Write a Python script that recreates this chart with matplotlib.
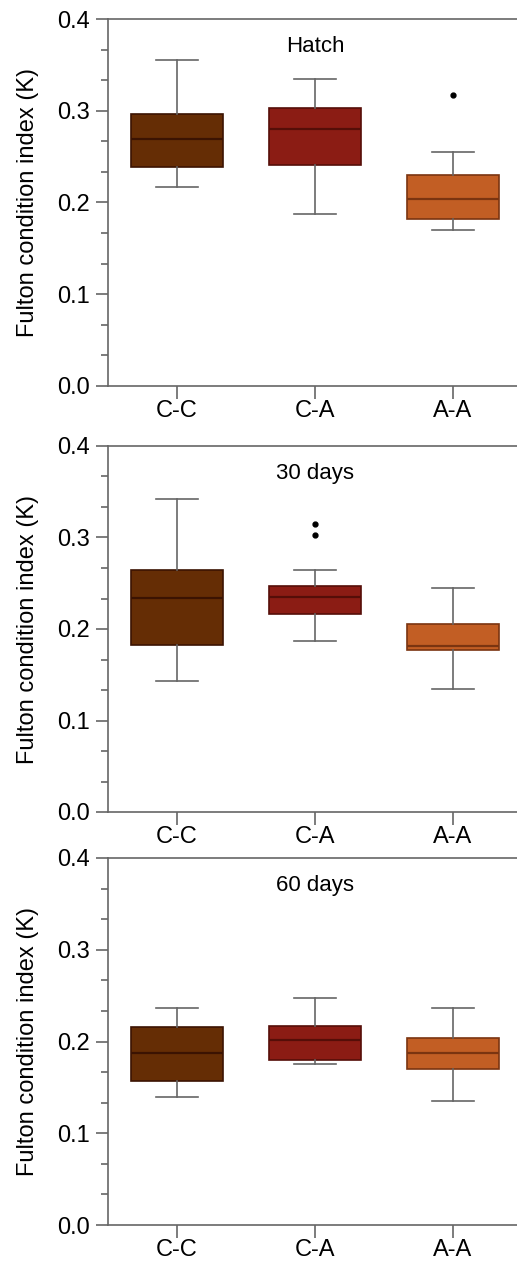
import matplotlib
matplotlib.use('Agg')
import matplotlib.pyplot as plt
from matplotlib.ticker import MultipleLocator

plt.rcParams['font.family'] = ['Liberation Sans', 'DejaVu Sans']

groups = ['C-C', 'C-A', 'A-A']
panels = ['Hatch', '30 days', '60 days']

# whislo, q1, med, q3, whishi for each group
hatch_stats = [[0.217, 0.239, 0.269, 0.297, 0.355],
               [0.188, 0.241, 0.280, 0.303, 0.335],
               [0.170, 0.182, 0.204, 0.230, 0.255]]
hatch_fliers = [[], [], [0.317]]

d30_stats = [[0.143, 0.182, 0.234, 0.265, 0.342],
             [0.187, 0.216, 0.235, 0.247, 0.265],
             [0.134, 0.177, 0.181, 0.206, 0.245]]
d30_fliers = [[], [0.303, 0.315], []]

d60_stats = [[0.140, 0.157, 0.188, 0.216, 0.236],
             [0.175, 0.180, 0.202, 0.217, 0.247],
             [0.135, 0.170, 0.187, 0.204, 0.236]]
d60_fliers = [[], [], []]

fills = ['#652D05', '#8B1C14', '#C25E24']
darks = ['#3B1302', '#550E08', '#7A3410']

all_stats = [hatch_stats, d30_stats, d60_stats]
all_fliers = [hatch_fliers, d30_fliers, d60_fliers]

W, H = 517, 1263
fig = plt.figure(figsize=(W / 100, H / 100), dpi=100)

# axes pixel boxes: (top, bottom)
boxes_px = [(19, 386), (446, 812), (858, 1225)]
left_px, right_px = 108, 522

gray = '#666666'
for i, (top, bot) in enumerate(boxes_px):
    ax = fig.add_axes([left_px / W, 1 - bot / H, (right_px - left_px) / W, (bot - top) / H])
    st = []
    for j, g in enumerate(groups):
        lo, q1, med, q3, hi = all_stats[i][j]
        st.append(dict(label=g, whislo=lo, q1=q1, med=med, q3=q3, whishi=hi,
                       fliers=all_fliers[i][j]))
    bp = ax.bxp(st, positions=[1, 2, 3], widths=0.667, patch_artist=True,
                showfliers=True,
                whiskerprops=dict(color=gray, lw=1.2),
                capprops=dict(color=gray, lw=1.2),
                flierprops=dict(marker='o', markersize=3.5, markerfacecolor='black',
                                markeredgecolor='black'))
    for j in range(3):
        bp['boxes'][j].set_facecolor(fills[j])
        bp['boxes'][j].set_edgecolor(darks[j])
        bp['boxes'][j].set_linewidth(1.2)
        bp['medians'][j].set_color(darks[j])
        bp['medians'][j].set_linewidth(1.6)
    for c in bp['caps']:
        xd = c.get_xdata()
        m = (xd[0] + xd[1]) / 2
        c.set_xdata([m - 0.15, m + 0.15])
    ax.set_xlim(0.5, 3.5)
    ax.set_ylim(0, 0.4)
    ax.yaxis.set_major_locator(MultipleLocator(0.1))
    ax.yaxis.set_minor_locator(MultipleLocator(0.1 / 3))
    ax.set_yticklabels([f'{v:.1f}' for v in ax.get_yticks()])
    ax.tick_params(axis='both', which='major', direction='out', length=9,
                   width=1.2, color=gray, labelsize=17, pad=4)
    ax.tick_params(axis='x', which='major', pad=1)
    ax.tick_params(axis='y', which='minor', direction='out', length=5,
                   width=1.2, color=gray)
    ax.tick_params(axis='x', which='minor', bottom=False)
    for s in ['left', 'bottom', 'top']:
        ax.spines[s].set_color(gray)
        ax.spines[s].set_linewidth(1.2)
    ax.spines['right'].set_visible(False)
    ax.set_ylabel('Fulton condition index (K)', fontsize=17, labelpad=13)
    ax.text(2, 0.37, panels[i], ha='center', va='center', fontsize=16)

fig.savefig('out.png', dpi=100)
